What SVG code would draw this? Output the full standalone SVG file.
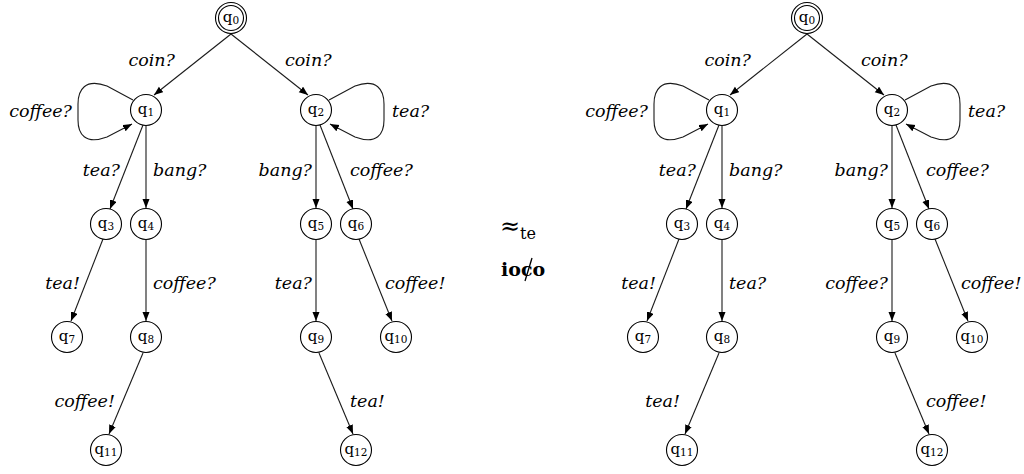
<svg xmlns="http://www.w3.org/2000/svg" width="1024" height="474" viewBox="0 0 1024 474">
  <style>
    .st circle { fill: #fff; stroke: #000; stroke-width: 1.1; }
    .st text { font-family: 'DejaVu Serif', serif; font-size: 15px; text-anchor: middle; fill: #000; }
    .st tspan { font-size: 10.5px; }
    .edge { fill: none; stroke: #1a1a1a; stroke-width: 1.1; marker-end: url(#arrow); }
    .lbl { font-family: 'DejaVu Serif', serif; font-style: italic; font-size: 17.5px; fill: #000; }
    .end { text-anchor: end; }
    .rel { font-family: 'DejaVu Serif', serif; fill: #000; }
  </style>
  <defs>
    <marker id="arrow" markerUnits="userSpaceOnUse" markerWidth="10" markerHeight="8" refX="9" refY="3.5" orient="auto">
      <path d="M0,0 L9,3.5 L0,7 Z" fill="#000"/>
    </marker>
  </defs>
  <rect width="1024" height="474" fill="#fff"/>

  <!-- left automaton -->
  <g id="left-edges">
    <path class="edge" d="M231,34 L154,95"/>
    <path class="edge" d="M231,34 L308,95"/>
    <path class="edge" d="M133,100 L107,86 C85,78 78,90 78,104 L78,120 C78,134 85,145 107,137 L132,124"/>
    <path class="edge" d="M329,100 L355,86 C377,78 384,90 384,104 L384,120 C384,134 377,145 355,137 L330,124"/>
    <path class="edge" d="M143,125 L110,209"/>
    <path class="edge" d="M146,126 L146,208"/>
    <path class="edge" d="M316,126 L316,208"/>
    <path class="edge" d="M320,125 L353,209"/>
    <path class="edge" d="M103,239 L71,321"/>
    <path class="edge" d="M146,240 L146,321"/>
    <path class="edge" d="M316,240 L316,321"/>
    <path class="edge" d="M359,239 L392,321"/>
    <path class="edge" d="M143,353 L109,434"/>
    <path class="edge" d="M319,353 L353,434"/>
  </g>
  <g id="left-labels">
    <text class="lbl end" x="175" y="66">coin?</text>
    <text class="lbl" x="285" y="66">coin?</text>
    <text class="lbl end" x="72" y="117">coffee?</text>
    <text class="lbl" x="392" y="117">tea?</text>
    <text class="lbl end" x="120" y="176">tea?</text>
    <text class="lbl" x="153" y="176">bang?</text>
    <text class="lbl end" x="312" y="176">bang?</text>
    <text class="lbl" x="350" y="176">coffee?</text>
    <text class="lbl end" x="80" y="289">tea!</text>
    <text class="lbl" x="153" y="289">coffee?</text>
    <text class="lbl end" x="312" y="289">tea?</text>
    <text class="lbl" x="385" y="289">coffee!</text>
    <text class="lbl end" x="115" y="407">coffee!</text>
    <text class="lbl" x="350" y="407">tea!</text>
  </g>
  <g id="L-q0" class="st"><circle cx="231" cy="18" r="15.5"/><circle cx="231" cy="18" r="12.5"/><text x="231" y="22">q<tspan dy="2">0</tspan></text></g>
  <g id="L-q1" class="st"><circle cx="146" cy="110" r="15.5"/><text x="146" y="114">q<tspan dy="2">1</tspan></text></g>
  <g id="L-q2" class="st"><circle cx="316" cy="110" r="15.5"/><text x="316" y="114">q<tspan dy="2">2</tspan></text></g>
  <g id="L-q3" class="st"><circle cx="106" cy="224" r="15.5"/><text x="106" y="228">q<tspan dy="2">3</tspan></text></g>
  <g id="L-q4" class="st"><circle cx="146" cy="224" r="15.5"/><text x="146" y="228">q<tspan dy="2">4</tspan></text></g>
  <g id="L-q5" class="st"><circle cx="316" cy="224" r="15.5"/><text x="316" y="228">q<tspan dy="2">5</tspan></text></g>
  <g id="L-q6" class="st"><circle cx="356" cy="224" r="15.5"/><text x="356" y="228">q<tspan dy="2">6</tspan></text></g>
  <g id="L-q7" class="st"><circle cx="67" cy="337" r="15.5"/><text x="67" y="341">q<tspan dy="2">7</tspan></text></g>
  <g id="L-q8" class="st"><circle cx="146" cy="337" r="15.5"/><text x="146" y="341">q<tspan dy="2">8</tspan></text></g>
  <g id="L-q9" class="st"><circle cx="316" cy="337" r="15.5"/><text x="316" y="341">q<tspan dy="2">9</tspan></text></g>
  <g id="L-q10" class="st"><circle cx="396" cy="337" r="15.5"/><text x="396" y="341">q<tspan dy="2">10</tspan></text></g>
  <g id="L-q11" class="st"><circle cx="106" cy="450" r="15.5"/><text x="106" y="454">q<tspan dy="2">11</tspan></text></g>
  <g id="L-q12" class="st"><circle cx="356" cy="450" r="15.5"/><text x="356" y="454">q<tspan dy="2">12</tspan></text></g>

  <!-- relation between the two automata: approx-te and a struck-through ioco -->
  <g id="relation">
    <text class="rel" x="500" y="234" font-size="24">≈<tspan font-size="16" dy="5">te</tspan></text>
    <text class="rel" x="501" y="276" font-size="19" font-weight="bold">ioco</text>
    <line x1="532" y1="258" x2="525" y2="281" stroke="#000" stroke-width="1.3"/>
  </g>

  <!-- right automaton -->
  <g id="right-edges">
    <path class="edge" d="M807,34 L730,95"/>
    <path class="edge" d="M807,34 L884,95"/>
    <path class="edge" d="M709,100 L683,86 C661,78 654,90 654,104 L654,120 C654,134 661,145 683,137 L708,124"/>
    <path class="edge" d="M905,100 L931,86 C953,78 960,90 960,104 L960,120 C960,134 953,145 931,137 L906,124"/>
    <path class="edge" d="M719,125 L686,209"/>
    <path class="edge" d="M722,126 L722,208"/>
    <path class="edge" d="M892,126 L892,208"/>
    <path class="edge" d="M896,125 L929,209"/>
    <path class="edge" d="M679,239 L647,321"/>
    <path class="edge" d="M722,240 L722,321"/>
    <path class="edge" d="M892,240 L892,321"/>
    <path class="edge" d="M935,239 L968,321"/>
    <path class="edge" d="M719,353 L685,434"/>
    <path class="edge" d="M895,353 L929,434"/>
  </g>
  <g id="right-labels">
    <text class="lbl end" x="751" y="66">coin?</text>
    <text class="lbl" x="861" y="66">coin?</text>
    <text class="lbl end" x="648" y="117">coffee?</text>
    <text class="lbl" x="968" y="117">tea?</text>
    <text class="lbl end" x="696" y="176">tea?</text>
    <text class="lbl" x="729" y="176">bang?</text>
    <text class="lbl end" x="888" y="176">bang?</text>
    <text class="lbl" x="926" y="176">coffee?</text>
    <text class="lbl end" x="656" y="289">tea!</text>
    <text class="lbl" x="729" y="289">tea?</text>
    <text class="lbl end" x="888" y="289">coffee?</text>
    <text class="lbl" x="961" y="289">coffee!</text>
    <text class="lbl end" x="680" y="407">tea!</text>
    <text class="lbl" x="926" y="407">coffee!</text>
  </g>
  <g id="R-q0" class="st"><circle cx="807" cy="18" r="15.5"/><circle cx="807" cy="18" r="12.5"/><text x="807" y="22">q<tspan dy="2">0</tspan></text></g>
  <g id="R-q1" class="st"><circle cx="722" cy="110" r="15.5"/><text x="722" y="114">q<tspan dy="2">1</tspan></text></g>
  <g id="R-q2" class="st"><circle cx="892" cy="110" r="15.5"/><text x="892" y="114">q<tspan dy="2">2</tspan></text></g>
  <g id="R-q3" class="st"><circle cx="682" cy="224" r="15.5"/><text x="682" y="228">q<tspan dy="2">3</tspan></text></g>
  <g id="R-q4" class="st"><circle cx="722" cy="224" r="15.5"/><text x="722" y="228">q<tspan dy="2">4</tspan></text></g>
  <g id="R-q5" class="st"><circle cx="892" cy="224" r="15.5"/><text x="892" y="228">q<tspan dy="2">5</tspan></text></g>
  <g id="R-q6" class="st"><circle cx="932" cy="224" r="15.5"/><text x="932" y="228">q<tspan dy="2">6</tspan></text></g>
  <g id="R-q7" class="st"><circle cx="643" cy="337" r="15.5"/><text x="643" y="341">q<tspan dy="2">7</tspan></text></g>
  <g id="R-q8" class="st"><circle cx="722" cy="337" r="15.5"/><text x="722" y="341">q<tspan dy="2">8</tspan></text></g>
  <g id="R-q9" class="st"><circle cx="892" cy="337" r="15.5"/><text x="892" y="341">q<tspan dy="2">9</tspan></text></g>
  <g id="R-q10" class="st"><circle cx="972" cy="337" r="15.5"/><text x="972" y="341">q<tspan dy="2">10</tspan></text></g>
  <g id="R-q11" class="st"><circle cx="682" cy="450" r="15.5"/><text x="682" y="454">q<tspan dy="2">11</tspan></text></g>
  <g id="R-q12" class="st"><circle cx="932" cy="450" r="15.5"/><text x="932" y="454">q<tspan dy="2">12</tspan></text></g>
</svg>
